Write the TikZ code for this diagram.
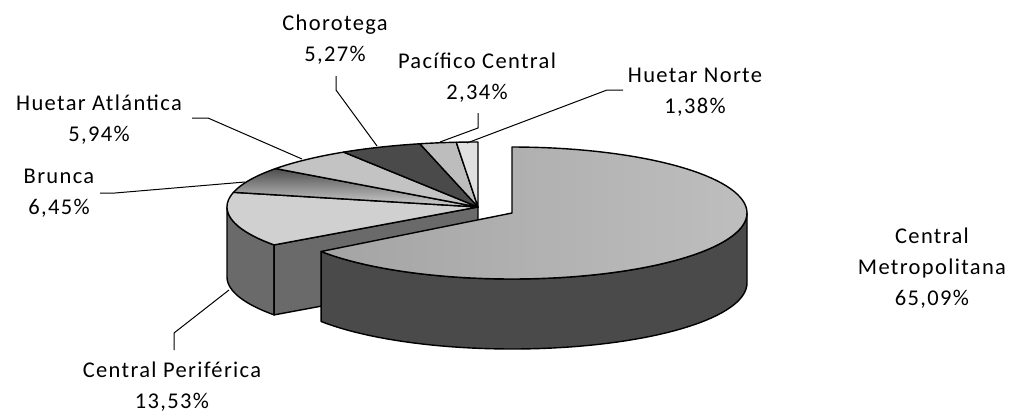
\documentclass[tikz,border=0pt]{standalone}
\usepackage{fontspec}
\setmainfont{Carlito}[LetterSpace=6]
\definecolor{cmtop}{HTML}{B2B2B2}
\definecolor{cmtopA}{HTML}{A4A4A4}
\definecolor{cmtopB}{HTML}{BEBEBE}
\definecolor{cmwall}{HTML}{4A4A4A}
\definecolor{mwall}{HTML}{6A6A6A}
\definecolor{cptop}{HTML}{D0D0D0}
\definecolor{brA}{HTML}{4E4E4E}
\definecolor{brB}{HTML}{D2D2D2}
\definecolor{hatop}{HTML}{C3C3C3}
\definecolor{chotop}{HTML}{4A4A4A}
\definecolor{pactop}{HTML}{BDBDBD}
\definecolor{hntop}{HTML}{E0E0E0}
\begin{document}
\begin{tikzpicture}[x=1pt,y=-1pt,
  face/.style={draw=black,line width=1.4pt,line join=round},
  leader/.style={draw=black,line width=1pt},
  lbl/.style={align=center,font=\fontsize{22.5}{31}\selectfont,inner sep=0pt}]
\def\cx{478}\def\cy{207}\def\rx{251}\def\ry{65}\def\dep{70}
\def\ex{512}\def\ey{213}\def\erx{235}\def\ery{66}
\useasboundingbox (0,0) rectangle (1010,413);
\fill[white] (0,0) rectangle (1010,413);
% main pie: wall and cut face
\path[face,fill=mwall] plot[domain=180:215.676,samples=20] ({\cx+\rx*cos(\x)},{\cy-\ry*sin(\x)})
  -- plot[domain=215.676:180,samples=20] ({\cx+\rx*cos(\x)},{\cy+\dep-\ry*sin(\x)}) -- cycle;
\coordinate (C) at (\cx,\cy);
\coordinate (Cb) at (\cx,\cy+\dep);
\path[face,fill=mwall] (C) -- ({\cx+\rx*cos(215.676)},{\cy-\ry*sin(215.676)})
  -- ({\cx+\rx*cos(215.676)},{\cy+\dep-\ry*sin(215.676)}) -- (Cb) -- cycle;
% top slices
\path[face,fill=cptop] (C) -- plot[domain=166.968:215.676,samples=30] ({\cx+\rx*cos(\x)},{\cy-\ry*sin(\x)}) -- cycle;
\path[face,top color=brA,bottom color=brB] (C) -- plot[domain=143.748:166.968,samples=20] ({\cx+\rx*cos(\x)},{\cy-\ry*sin(\x)}) -- cycle;
\path[face,fill=hatop] (C) -- plot[domain=122.364:143.748,samples=20] ({\cx+\rx*cos(\x)},{\cy-\ry*sin(\x)}) -- cycle;
\path[face,fill=chotop] (C) -- plot[domain=103.392:122.364,samples=20] ({\cx+\rx*cos(\x)},{\cy-\ry*sin(\x)}) -- cycle;
\path[face,fill=pactop] (C) -- plot[domain=94.968:103.392,samples=10] ({\cx+\rx*cos(\x)},{\cy-\ry*sin(\x)}) -- cycle;
\path[face,fill=hntop] (C) -- plot[domain=90:94.968,samples=8] ({\cx+\rx*cos(\x)},{\cy-\ry*sin(\x)}) -- cycle;
% exploded slice
\coordinate (E) at (\ex,\ey);
\path[face,fill=cmwall] plot[domain=-144.324:0,samples=60] ({\ex+\erx*cos(\x)},{\ey-\ery*sin(\x)})
  -- plot[domain=0:-144.324,samples=60] ({\ex+\erx*cos(\x)},{\ey+\dep-\ery*sin(\x)}) -- cycle;
\path[face,left color=cmtopA,right color=cmtopB] (E) -- plot[domain=90:-144.324,samples=90] ({\ex+\erx*cos(\x)},{\ey-\ery*sin(\x)}) -- cycle;
% labels
\node[lbl] (cho) at (335,40) {Chorotega\\5,27\%};
\node[lbl] (pac) at (477,77.5) {Pacífico Central\\2,34\%};
\node[lbl] (hn) at (695,92.5) {Huetar Norte\\1,38\%};
\node[lbl] (ha) at (99,119.5) {Huetar Atlántica\\5,94\%};
\node[lbl] (bru) at (59,193) {Brunca\\6,45\%};
\node[lbl] (cp) at (172,386.5) {Central Periférica\\13,53\%};
\node[lbl] (cm) at (932,268.5) {Central\\Metropolitana\\65,09\%};
% leader lines
\coordinate (choA) at (336,76); \coordinate (choB) at (336,90); \coordinate (choC) at (377,146);
\coordinate (pacA) at (478,113); \coordinate (pacB) at (478,128); \coordinate (pacC) at (440,142);
\coordinate (hnA) at (623,90); \coordinate (hnB) at (607,90); \coordinate (hnC) at (467,143);
\coordinate (haA) at (192,118); \coordinate (haB) at (208,118); \coordinate (haC) at (302,159);
\coordinate (bruA) at (100,193); \coordinate (bruB) at (115,193); \coordinate (bruC) at (245,182);
\coordinate (cpA) at (174,350); \coordinate (cpB) at (174,333); \coordinate (cpC) at (229,290);
\draw[leader] (choA) -- (choB) -- (choC);
\draw[leader] (pacA) -- (pacB) -- (pacC);
\draw[leader] (hnA) -- (hnB) -- (hnC);
\draw[leader] (haA) -- (haB) -- (haC);
\draw[leader] (bruA) -- (bruB) -- (bruC);
\draw[leader] (cpA) -- (cpB) -- (cpC);
\end{tikzpicture}
\end{document}
